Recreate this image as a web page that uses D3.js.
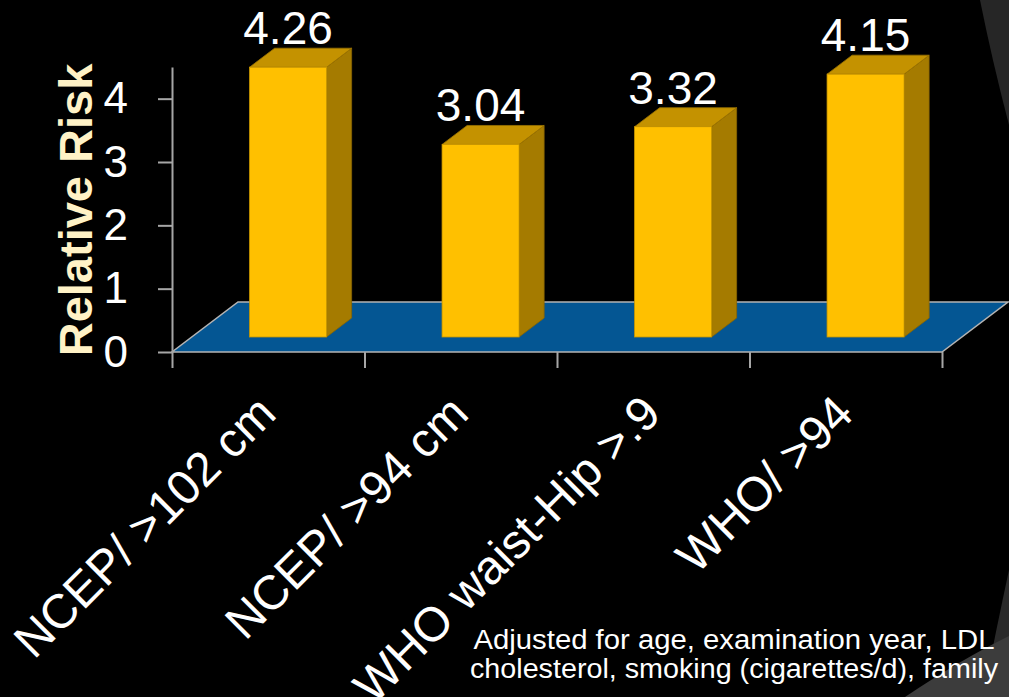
<!DOCTYPE html>
<html>
<head>
<meta charset="utf-8">
<script src="https://cdn.jsdelivr.net/npm/d3@7"></script>
<style>
  html, body { margin: 0; padding: 0; background: #000; }
  svg { display: block; font-family: "Liberation Sans", Arial, sans-serif; }
</style>
</head>
<body>
<div id="chart"></div>
<script>
// relative risk by obesity definition, 3D column chart on black slide

const categories = ['NCEP/ >102 cm', 'NCEP/ >94 cm', 'WHO waist-Hip >.9', 'WHO/ >94'];
const riskValues = [4.26, 3.04, 3.32, 4.15];
const yTicks = [0, 1, 2, 3, 4];
const footnoteLines = [
  'Adjusted for age, examination year, LDL',
  'cholesterol, smoking (cigarettes/d), family'
];

const width = 1009;
const height = 697;

const svg = d3.select('#chart')
  .append('svg')
  .attr('width', width)
  .attr('height', height);

svg.append('rect')
  .attr('width', width)
  .attr('height', height)
  .attr('fill', '#000');

// slide theme swooshes on the right edge
svg.append('path')
  .attr('d', 'M980,0 L1009,0 L1009,125 Q992,60 980,0 Z')
  .attr('fill', '#262626');
svg.append('path')
  .attr('d', 'M1009,570 L1009,697 L983,697 Q996,630 1009,570 Z')
  .attr('fill', '#2a2a2a');
svg.append('path')
  .attr('d', 'M1009,636 L1009,697 L905,697 Q960,660 1009,636 Z')
  .attr('fill', '#3c3c3c');

// plot frame (front plane) and depth projection
const x0 = 172, x1 = 942;
const depthX = 66, depthY = -50;
const barD0 = 0.3, barD1 = 0.68;

const x = d3.scaleBand()
  .domain(categories)
  .range([x0, x1])
  .paddingInner(0)
  .paddingOuter(0);

const y = d3.scaleLinear()
  .domain([0, 4.5])
  .range([352, 67]);

const xIdx = d3.scaleLinear()
  .domain([0, categories.length])
  .range([x0, x1]);

// floor
const yBase = y(0);
const floorPts = [
  [x0, yBase], [x1, yBase],
  [x1 + depthX, yBase + depthY], [x0 + depthX, yBase + depthY]
];
svg.append('polygon')
  .attr('points', floorPts.map(p => p.join(',')).join(' '))
  .attr('fill', '#045693')
  .attr('stroke', '#b4b4b4')
  .attr('stroke-width', 1.5);

// y axis
const yAxis = d3.axisLeft(y)
  .tickValues(yTicks)
  .tickSize(14)
  .tickSizeOuter(0)
  .tickPadding(30)
  .tickFormat(d3.format('d'));

const gy = svg.append('g')
  .attr('transform', `translate(${x0},0)`)
  .call(yAxis);
gy.select('.domain').attr('stroke', '#a6a6a6').attr('stroke-width', 2);
gy.selectAll('.tick line').attr('stroke', '#a6a6a6').attr('stroke-width', 2);
gy.selectAll('.tick text')
  .attr('fill', '#fff')
  .attr('font-size', 44)
  .attr('font-family', '"Liberation Sans", Arial, sans-serif');

// x axis ticks at category boundaries
const xAxis = d3.axisBottom(xIdx)
  .tickValues(d3.range(categories.length + 1))
  .tickSize(16)
  .tickFormat('');
const gx = svg.append('g')
  .attr('transform', `translate(0,${yBase})`)
  .call(xAxis);
gx.select('.domain').remove();
gx.selectAll('.tick line').attr('stroke', '#a6a6a6').attr('stroke-width', 2);

// bars as boxes: front, top, side faces
const barW = x.bandwidth() * 0.4;
const bars = riskValues.map((v, i) => {
  const fx = x(categories[i]) + x.bandwidth() * 0.3 + depthX * barD0;
  const fb = yBase + depthY * barD0;
  const ft = fb - (yBase - y(v));
  const dx = depthX * (barD1 - barD0);
  const dy = depthY * (barD1 - barD0);
  return { v, fx, fb, ft, dx, dy };
});

const g = svg.append('g');
const pts = arr => arr.map(p => p.join(',')).join(' ');

g.selectAll('.side')
  .data(bars)
  .enter()
  .append('polygon')
  .attr('points', d => pts([
    [d.fx + barW, d.fb], [d.fx + barW + d.dx, d.fb + d.dy],
    [d.fx + barW + d.dx, d.ft + d.dy], [d.fx + barW, d.ft]
  ]))
  .attr('fill', '#a57b00')
  .attr('stroke', '#8a6600')
  .attr('stroke-width', 0.8);

g.selectAll('.top')
  .data(bars)
  .enter()
  .append('polygon')
  .attr('points', d => pts([
    [d.fx, d.ft], [d.fx + barW, d.ft],
    [d.fx + barW + d.dx, d.ft + d.dy], [d.fx + d.dx, d.ft + d.dy]
  ]))
  .attr('fill', '#c49200')
  .attr('stroke', '#9c7400')
  .attr('stroke-width', 0.8);

g.selectAll('.front')
  .data(bars)
  .enter()
  .append('rect')
  .attr('x', d => d.fx)
  .attr('y', d => d.ft)
  .attr('width', barW)
  .attr('height', d => d.fb - d.ft)
  .attr('fill', '#ffc000')
  .attr('stroke', '#c99700')
  .attr('stroke-width', 0.8);

// value labels
svg.selectAll('.val')
  .data(bars)
  .enter()
  .append('text')
  .attr('x', d => d.fx + barW / 2)
  .attr('y', d => d.ft + d.dy - 4)
  .attr('text-anchor', 'middle')
  .attr('font-size', 46)
  .attr('fill', '#fff')
  .text(d => d.v.toFixed(2));

// rotated category labels
svg.selectAll('.cat')
  .data(categories)
  .enter()
  .append('text')
  .attr('transform', d => `translate(${x(d) + x.bandwidth() / 2 + 10},416) rotate(-45)`)
  .attr('text-anchor', 'end')
  .attr('font-size', 48)
  .attr('fill', '#fff')
  .text(d => d);

// y axis title
svg.append('text')
  .attr('transform', 'translate(75,210) rotate(-90)')
  .attr('text-anchor', 'middle')
  .attr('dominant-baseline', 'central')
  .attr('font-size', 47)
  .attr('font-weight', 'bold')
  .attr('fill', '#fff2c6')
  .text('Relative Risk');

// footnote
svg.selectAll('.note')
  .data(footnoteLines)
  .enter()
  .append('text')
  .attr('x', 734)
  .attr('y', (d, i) => 649 + i * 29)
  .attr('text-anchor', 'middle')
  .attr('font-size', 27)
  .attr('fill', '#fff')
  .attr('textLength', (d, i) => i === 0 ? 521 : 528)
  .attr('lengthAdjust', 'spacingAndGlyphs')
  .text(d => d);
</script>
</body>
</html>
